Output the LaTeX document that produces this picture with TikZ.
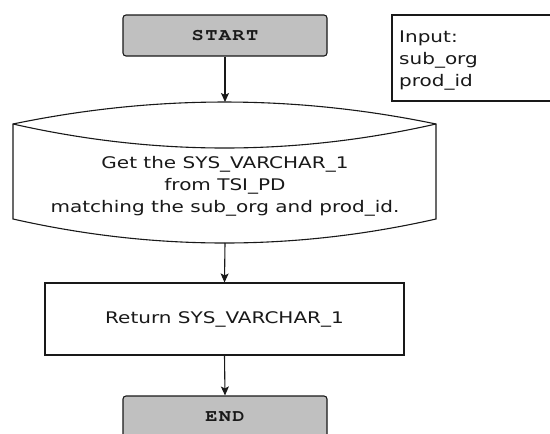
\documentclass[tikz,border=0pt]{standalone}
\usepackage{fontspec}
\usetikzlibrary{arrows.meta}
\newfontfamily\vfont[FakeStretch=1.25]{DejaVu Sans}
\newfontfamily\cfont[FakeStretch=1.2,LetterSpace=8]{TeX Gyre Cursor Bold}
\definecolor{boxgray}{RGB}{192,192,192}
\definecolor{ink}{RGB}{25,25,25}
\tikzset{
  term/.style={draw=ink, line width=1.1pt, fill=boxgray, rounded corners=3pt,
    minimum width=204pt, minimum height=41pt, inner sep=0pt,
    font=\cfont\fontsize{17}{20}\selectfont, text=ink},
  procbox/.style={draw=ink, line width=1.1pt, fill=white, minimum width=359pt,
    minimum height=72pt, inner sep=0pt, font=\vfont\fontsize{16}{22}\selectfont, text=ink},
  txt/.style={inner sep=0pt, font=\vfont\fontsize{16}{22}\selectfont, text=ink},
  flow/.style={draw=ink, line width=1.1pt, -{Stealth[length=9pt,width=8pt,inset=2pt]}},
  edge/.style={draw=ink, line width=1.1pt}
}
\begin{document}
\begin{tikzpicture}[x=1pt,y=-1pt]
\useasboundingbox (0,0) rectangle (550,434);
\begin{scope}
\clip (0,0) rectangle (550,434);
% start
\node[term] (start) at (225,35.5) {START};
% input note
\draw[edge, fill=white] (392,15) rectangle (570,101);
\node[txt, anchor=west, align=left] (input) at (399,60.3) {Input:\\sub\_org\\prod\_id};
% curved process shape
\coordinate (shapeTop) at (225,102);
\coordinate (shapeBot) at (225,243);
\draw[edge, fill=white] (13,124) .. controls (154.3,94.7) and (294.7,94.7) .. (436,124)
  -- (436,219) .. controls (294.7,251) and (154.3,251) .. (13,219) -- cycle;
\draw[edge] (13,124) .. controls (154.3,156) and (294.7,156) .. (436,124);
\node[txt, align=center] (get) at (225,186.8) {Get the SYS\_VARCHAR\_1\\from TSI\_PD\\matching the sub\_org and prod\_id.};
% return
\node[procbox] (ret) at (224.5,319) {Return SYS\_VARCHAR\_1};
% end
\node[term] (end) at (225,416.5) {END};
% connectors
\draw[flow] (start.south) -- (shapeTop);
\draw[flow] (shapeBot) -- (ret.north);
\draw[flow] (ret.south) -- (end.north);
\end{scope}
\end{tikzpicture}
\end{document}
